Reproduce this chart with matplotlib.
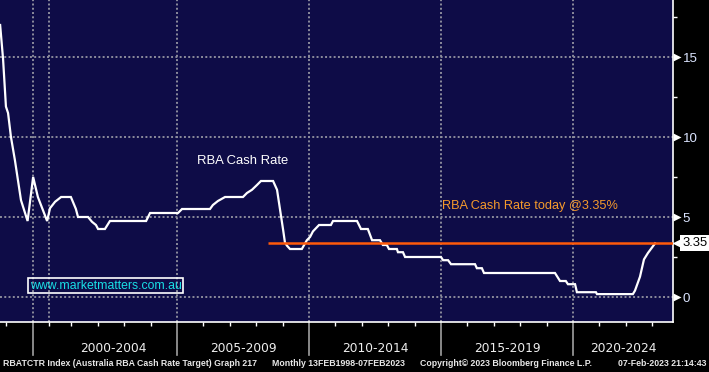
import numpy as np
import matplotlib
matplotlib.use('Agg')
import matplotlib.pyplot as plt
import matplotlib.transforms as mtransforms

# RBA cash rate (x = decimal year on the chart's axis)
years = [1998.30, 1998.41, 1998.52, 1998.60, 1998.71, 1998.86, 1999.09, 1999.34,
         1999.55, 1999.73, 2000.08, 2000.19, 2000.38, 2000.61, 2000.98, 2001.17,
         2001.25, 2001.63, 2001.78, 2001.93, 2002.01, 2002.27, 2002.46, 2003.83,
         2003.98, 2005.04, 2005.19, 2006.25, 2006.36, 2006.55, 2006.82, 2007.50,
         2007.65, 2007.84, 2008.03, 2008.18, 2008.64, 2008.79, 2009.02, 2009.09,
         2009.17, 2009.28, 2009.73, 2009.92, 2010.04, 2010.15, 2010.38, 2010.83,
         2010.91, 2011.82, 2011.97, 2012.23, 2012.39, 2012.69, 2012.80, 2012.95,
         2013.03, 2013.33, 2013.37, 2013.56, 2013.64, 2015.00, 2015.08, 2015.27,
         2015.38, 2016.29, 2016.36, 2016.55, 2016.63, 2019.32, 2019.51, 2019.73,
         2019.81, 2020.08, 2020.15, 2020.87, 2020.91, 2022.27, 2022.35, 2022.54,
         2022.69, 2022.84, 2023.11]
rate = [17.0, 14.9, 11.9, 11.5, 10.0, 8.55, 6.05, 4.75,
        7.5, 6.25, 4.75, 5.55, 5.95, 6.25, 6.25, 5.5,
        5.0, 5.0, 4.7, 4.5, 4.25, 4.25, 4.75, 4.75,
        5.25, 5.25, 5.5, 5.5, 5.75, 6.0, 6.25, 6.25,
        6.5, 6.7, 7.0, 7.25, 7.25, 6.7, 4.2, 3.4,
        3.2, 3.0, 3.0, 3.55, 3.75, 4.1, 4.5, 4.5,
        4.75, 4.75, 4.25, 4.25, 3.55, 3.55, 3.25, 3.25,
        3.0, 3.0, 2.8, 2.8, 2.5, 2.5, 2.3, 2.3,
        2.05, 2.05, 1.8, 1.8, 1.5, 1.5, 1.0, 1.0,
        0.8, 0.8, 0.3, 0.3, 0.18, 0.18, 0.4, 1.27,
        2.35, 2.75, 3.35]

cash_today = 3.35
today_line_start = 2008.45

period_labels = ['2000-2004', '2005-2009', '2010-2014', '2015-2019', '2020-2024']
period_bounds = [2000.15, 2005.0, 2010.0, 2015.0, 2020.0, 2023.79]
separators = [1999.55, 2005.0, 2010.0, 2015.0, 2020.0]
v_grid = [1999.55, 2000.15, 2005.0, 2010.0, 2015.0, 2020.0]
year_ticks = [1998.52, 2000.15] + [y for y in range(2001, 2024) if y % 5 != 0]
y_major = [0, 5, 10, 15]
y_minor = [2.5, 7.5, 12.5, 17.5]

navy = '#0e0c47'
orange_line = '#ff5a0a'
orange_text = '#f59a2c'

fig = plt.figure(figsize=(7.09, 3.72), dpi=100, facecolor='black')
ax = fig.add_axes([0, 1 - 322 / 372, 673 / 709, 322 / 372])
ax.set_facecolor(navy)
ax.set_xlim(1998.295, 2023.79)
ax.set_ylim(-1.5625, 18.5625)

# grid
for yv in y_major:
    ax.axhline(yv, color='#8c8c9c', lw=1.4, ls=(0, (1, 1.2)), zorder=1)
for xv in v_grid:
    ax.axvline(xv, color='#8c8c9c', lw=1.4, ls=(0, (1, 1.2)), zorder=1)

# series
ax.plot(years, rate, color='white', lw=1.6, zorder=3, solid_joinstyle='miter')
ax.hlines(cash_today, today_line_start, 2023.79, color=orange_line, lw=1.8, zorder=4)

# annotations
ax.text(2005.76, 8.5, 'RBA Cash Rate', color='white', fontsize=9.4,
        family='Liberation Sans', va='center', ha='left')
ax.text(2015.04, 5.69, 'RBA Cash Rate today @3.35%', color=orange_text, fontsize=9.2,
        family='Liberation Sans', va='center', ha='left')
ax.text(1999.43, 0.69, 'www.marketmatters.com.au', color='#19e0e6', fontsize=8.8,
        family='Liberation Sans', va='center', ha='left',
        bbox=dict(boxstyle='square,pad=0.12', fc='none', ec='white', lw=1.2))

# spines
for s in ['left', 'top']:
    ax.spines[s].set_visible(False)
ax.spines['right'].set_color('white')
ax.spines['bottom'].set_color('white')
ax.spines['right'].set_linewidth(1.2)
ax.spines['bottom'].set_linewidth(1.2)

# y axis on the right
ax.yaxis.tick_right()
ax.set_yticks(y_major)
ax.set_yticks(y_minor, minor=True)
ax.tick_params(axis='y', which='major', length=0, pad=7, labelsize=9.6,
               labelcolor='#dbe4ff')
ax.tick_params(axis='y', which='minor', length=3, color='white', width=1)
for lab in ax.get_yticklabels():
    lab.set_family('Liberation Sans')
tri = mtransforms.offset_copy(ax.get_yaxis_transform(), fig=fig, x=4, y=0, units='dots')
ax.plot([1] * len(y_major), y_major, '>', color='white', ms=5.5, mec='none',
        transform=tri, clip_on=False)

# tag with current value
tag = mtransforms.offset_copy(ax.get_yaxis_transform(), fig=fig, x=5, y=0, units='dots')
ax.plot([1], [cash_today], '<', color='white', ms=9, mec='none', transform=tag,
        clip_on=False)
ax.annotate('3.35', xy=(1, cash_today), xycoords=ax.get_yaxis_transform(),
            xytext=(22, 0), textcoords='offset pixels', ha='center', va='center',
            fontsize=9.4, family='Liberation Sans', color='black',
            bbox=dict(boxstyle='square,pad=0.15', fc='white', ec='none'))

# x axis
ax.set_xticks(year_ticks)
ax.set_xticklabels([])
ax.tick_params(axis='x', length=3, color='white', width=1)
xt = ax.get_xaxis_transform()
for s in separators:
    ax.plot([s, s], [0, -33 / 322], color='#a0a0a0', lw=1.2, transform=xt, clip_on=False)
for i, lab in enumerate(period_labels):
    c = (period_bounds[i] + period_bounds[i + 1]) / 2
    ax.text(c, -26 / 322, lab, transform=xt, ha='center', va='center',
            color='#eeeeee', fontsize=8.8)

# footer
foot = dict(color='#e8e8e8', fontsize=6.35, va='center', fontweight='bold',
            family='Liberation Sans')
fig.text(3 / 709, 1 - 364 / 372, 'RBATCTR Index (Australia RBA Cash Rate Target) Graph 217',
         ha='left', **foot)
fig.text(272 / 709, 1 - 364 / 372, 'Monthly 13FEB1998-07FEB2023', ha='left', **foot)
fig.text(420 / 709, 1 - 364 / 372, 'Copyright\u00a9 2023 Bloomberg Finance L.P.', ha='left', **foot)
fig.text(707 / 709, 1 - 364 / 372, '07-Feb-2023 21:14:43', ha='right', **foot)

fig.savefig('out.png', dpi=100, facecolor='black')
